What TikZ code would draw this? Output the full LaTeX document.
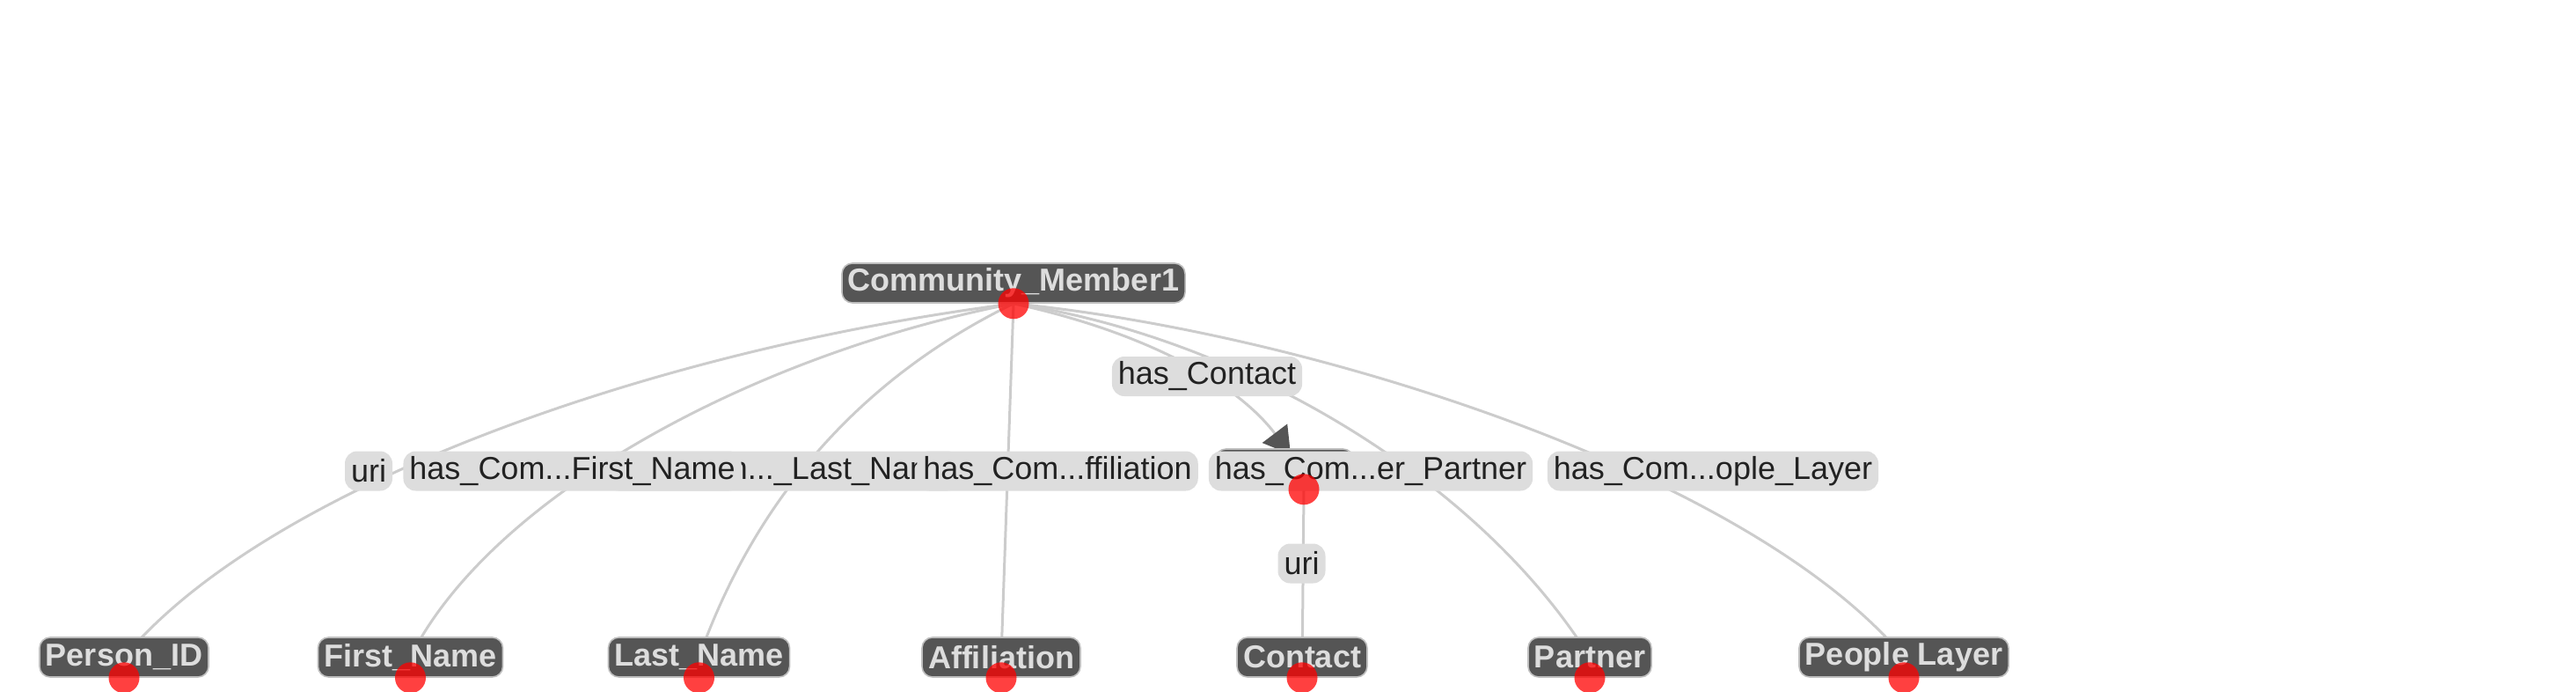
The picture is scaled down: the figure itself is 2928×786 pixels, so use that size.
\documentclass[tikz,border=0pt]{standalone}
\usepackage{fontspec}
\setmainfont{Liberation Sans}
\usetikzlibrary{ arrows.meta, backgrounds, calc }
\definecolor{resfill}{HTML}{555555}
\definecolor{restext}{HTML}{DDDDDD}
\definecolor{propfill}{HTML}{DDDDDD}
\definecolor{proptext}{HTML}{222222}
\definecolor{edgegray}{HTML}{CCCCCC}
\tikzset{
  every node/.style={font=\fontsize{18}{22}\selectfont}, % text size of all boxes
  resource/.style={fill=resfill, draw=black!25, line width=0.8pt, text=restext,
    font=\fontsize{18}{22}\selectfont\bfseries, rounded corners=6pt,
    inner xsep=3.5pt, inner ysep=0pt, minimum height=22.5pt}, % dark resource boxes
  prop/.style={fill=propfill, text=proptext, rounded corners=7pt,
    inner xsep=3.5pt, inner ysep=0pt, minimum height=22.5pt}, % property labels
  dot/.style={circle, fill=red, fill opacity=0.75, inner sep=0pt, minimum size=17.5pt}, % red handles
  edge/.style={draw=edgegray, line width=1.5pt}, % connectors
}

\begin{document}
\begin{tikzpicture}[x=0.5pt, y=-0.5pt]
  \useasboundingbox (0,0) rectangle (2928,786);
  % resources
  \node[resource] (cm) at (1152,321.5) {Community\_Member1};
  \node[resource] (pid) at (141,746.5) {Person\_ID};
  \node[resource] (fn) at (466.5,746.5) {First\_Name};
  \node[resource] (ln) at (794.5,746.5) {Last\_Name};
  \node[resource] (aff) at (1138,746.5) {Affiliation};
  \node[resource] (con) at (1480,746.5) {Contact};
  \node[resource] (par) at (1807,746.5) {Partner};
  \node[resource] (ppl) at (2164,746.5) {People Layer};
  \node[resource, minimum width=78.5pt] (bn) at (1460,532.5) {};
  % properties
  \node[prop] (luri) at (419,535) {uri};
  \node[prop] (lln) at (890,535) {has\_Com...\_Last\_Name};
  \node[prop] (lfn) at (650.5,535) {has\_Com...First\_Name};
  \node[prop] (laff) at (1202,535) {has\_Com...ffiliation};
  \node[prop] (lcon) at (1372,427.5) {has\_Contact};
  \node[prop] (lpar) at (1558,535) {has\_Com...er\_Partner};
  \node[prop] (lppl) at (1947,535) {has\_Com...ople\_Layer};
  \node[prop] (luri2) at (1479.5,640) {uri};
  % handles
  \foreach \n in {cm,pid,fn,ln,aff,con,par,ppl}
    \node[dot] (d\n) at (\n.south) {};
  \node[dot] (dbn) at ([xshift=11pt]bn.south) {};
  % connectors
  \begin{scope}[on background layer]
    \coordinate (pid-a) at (741,397);     \coordinate (pid-b) at (301,554);
    \coordinate (fn-a) at (851,403.7);    \coordinate (fn-b) at (556.7,566);
    \coordinate (ln-a) at (1014,412);     \coordinate (ln-b) at (871.5,531);
    \coordinate (par-a) at (1412.4,383.4); \coordinate (par-b) at (1682,546.5);
    \coordinate (ppl-a) at (1491.5,378);  \coordinate (ppl-b) at (1990.5,538.3);
    \coordinate (ccon) at (1374,393);
    \coordinate (bnin) at ([shift={(3.5pt,-3.5pt)}]bn.north);
    \foreach \n in {pid,fn,ln,par,ppl}
      \draw[edge] (dcm.center) .. controls (\n-a) and (\n-b) .. (\n.center);
    \draw[edge] (dcm.center) -- (aff.center);
    \draw[edge, -{Triangle[length=15pt, width=17.5pt, color=resfill]}]
      (dcm.center) .. controls ($(dcm.center)!2/3!(ccon)$) and ($(bnin)!2/3!(ccon)$) .. (bnin);
    \draw[edge] (dbn.center) -- (dcon.center);
  \end{scope}
\end{tikzpicture}
\end{document}
